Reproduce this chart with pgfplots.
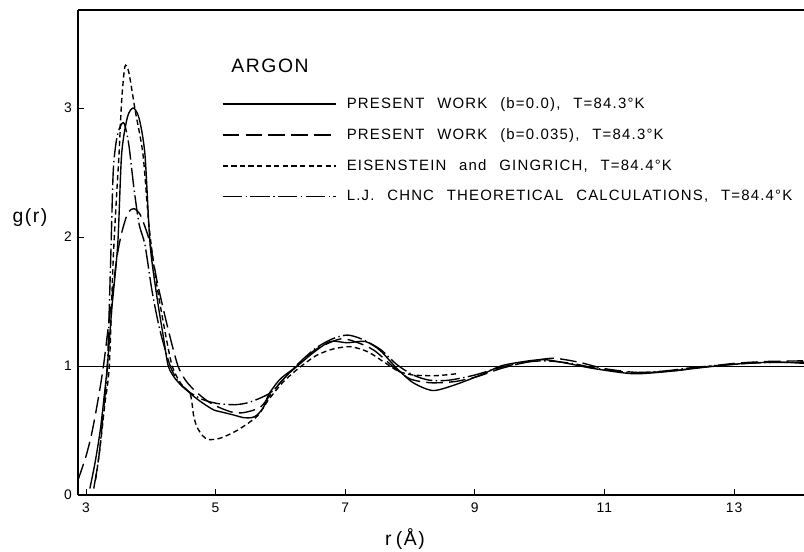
\documentclass[border=0pt]{standalone}
\usepackage{pgfplots}
\pgfplotsset{compat=1.18}
\usepackage{fontspec}
\setmainfont{Liberation Sans}[LetterSpace=8, WordSpace=2.4]
\begin{document}
\begin{tikzpicture}
\path[use as bounding box] (-0.78in,-0.57in) rectangle (7.26in,4.95in);
\begin{axis}[
  at={(0,0)}, anchor=south west,
  scale only axis, width=7.26in, height=4.85in,
  xmin=2.877, xmax=14.08, ymin=0, ymax=3.76,
  axis x line=box, axis y line=left,
  axis line style={-, line width=1.1pt},
  xtick={3,5,7,9,11,13}, ytick={0,1,2,3},
  xtick pos=left,
  tick align=inside, major tick length=0.06in,
  tick style={line width=0.6pt, black},
  /pgf/number format/assume math mode=true,
  ticklabel style={font=\fontsize{10}{12}\selectfont},
  xticklabel style={yshift=-2pt},
  yticklabel style={xshift=-1pt},
  xlabel={r\hspace{3pt}(Å)}, ylabel={g(r)},
  xlabel style={font=\fontsize{14}{16}\selectfont, at={(rel axis cs:0.4504,0)}, anchor=center, yshift=-0.44in},
  ylabel style={font=\fontsize{14}{16}\selectfont, rotate=-90, at={(rel axis cs:0,0.573)}, anchor=center, xshift=-0.48in},
  legend cell align=left,
  legend style={at={(rel axis cs:0.198,0.825)}, anchor=north west, draw=none, fill=none,
    font=\fontsize{10.8}{13}\selectfont, row sep=9.3pt, inner sep=0pt,
    nodes={inner sep=1pt, text height=8.5pt, text depth=2.5pt},
    /tikz/every odd column/.append style={column sep=0.09in}},
  legend image code/.code={\draw[#1] (0in,0in) -- (1.13in,0in);},
]
\addplot[black, line width=0.45pt, forget plot] coordinates {(2.877,1) (14.08,1)};

% Present work b=0.0 (solid)
\addplot[black, line width=1pt, smooth, tension=0.45] coordinates {
(3.06,0.05) (3.14,0.25) (3.22,0.50) (3.28,0.76) (3.33,1.00) (3.40,1.45) (3.49,1.94)
(3.55,2.64) (3.64,2.93) (3.73,3.00) (3.82,2.92) (3.91,2.64) (3.99,1.94) (4.10,1.52)
(4.19,1.24) (4.27,1.00) (4.38,0.90) (4.50,0.84) (4.65,0.77) (4.81,0.71) (4.97,0.66)
(5.12,0.64) (5.28,0.62) (5.43,0.60) (5.56,0.60) (5.64,0.62) (5.74,0.68) (5.82,0.78)
(6.00,0.90) (6.26,1.00) (6.50,1.10) (6.77,1.19) (7.03,1.18) (7.31,1.19) (7.54,1.12)
(7.80,0.98) (8.05,0.87) (8.35,0.81) (8.67,0.85) (9.09,0.93) (9.40,1.00) (9.70,1.03)
(10.06,1.05) (10.43,1.02) (10.84,0.98) (11.45,0.94) (12.03,0.96) (12.54,0.99)
(13.16,1.02) (13.68,1.03) (14.10,1.02)};
\addlegendentry{PRESENT WORK (b=0.0), T=84.3°K}

% Present work b=0.035 (long dash)
\addplot[black, line width=1pt, smooth, tension=0.45, dash pattern=on 12pt off 4.5pt] coordinates {
(2.88,0.12) (3.00,0.30) (3.09,0.48) (3.18,0.72) (3.27,1.00) (3.38,1.45) (3.48,1.85)
(3.56,2.05) (3.65,2.19) (3.74,2.22) (3.83,2.18) (3.91,2.08) (3.99,1.95) (4.10,1.65)
(4.27,1.28) (4.42,1.00) (4.55,0.88) (4.70,0.80) (4.87,0.73) (5.05,0.68) (5.27,0.64)
(5.45,0.64) (5.69,0.68) (5.85,0.78) (6.05,0.90) (6.30,1.02) (6.55,1.13) (6.93,1.21)
(7.20,1.18) (7.45,1.12) (7.75,0.99) (8.00,0.90) (8.32,0.87) (8.70,0.88) (9.05,0.92)
(9.40,0.98) (9.80,1.03) (10.20,1.06) (10.60,1.03) (11.00,0.98) (11.50,0.95)
(12.00,0.96) (12.50,0.99) (13.00,1.02) (13.50,1.035) (14.10,1.04)};
\addlegendentry{PRESENT WORK (b=0.035), T=84.3°K}

% Eisenstein and Gingrich (short dash)
\addplot[black, line width=1pt, smooth, tension=0.45, dash pattern=on 3.8pt off 2.4pt] coordinates {
(3.15,0.12) (3.22,0.38) (3.29,0.70) (3.36,1.00) (3.42,1.82) (3.47,2.30) (3.51,2.64)
(3.55,3.05) (3.60,3.32) (3.66,3.28) (3.76,2.98) (3.88,2.64) (3.97,2.10) (4.07,1.70)
(4.20,1.32) (4.33,1.00) (4.47,0.86) (4.61,0.78) (4.66,0.62) (4.71,0.53) (4.80,0.46)
(4.89,0.43) (5.07,0.44) (5.33,0.50) (5.64,0.61) (5.82,0.74) (6.05,0.88) (6.30,0.99)
(6.55,1.08) (6.80,1.13) (7.08,1.15) (7.35,1.11) (7.60,1.03) (7.82,0.96) (8.05,0.93)
(8.40,0.925) (8.72,0.94)};
\addlegendentry{EISENSTEIN and GINGRICH, T=84.4°K}

% L.J. CHNC theoretical (dash-dot)
\addplot[black, line width=1pt, smooth, tension=0.45, dash pattern=on 14pt off 2.5pt on 1pt off 2.5pt] coordinates {
(3.12,0.05) (3.20,0.30) (3.27,0.65) (3.33,1.00) (3.38,1.80) (3.42,2.50) (3.47,2.75)
(3.53,2.86) (3.59,2.88) (3.66,2.72) (3.74,2.38) (3.82,2.10) (3.91,1.94) (4.02,1.58)
(4.14,1.28) (4.30,1.00) (4.45,0.86) (4.62,0.79) (4.80,0.74) (5.02,0.71) (5.30,0.70)
(5.53,0.72) (5.84,0.79) (6.05,0.90) (6.30,1.03) (6.55,1.14) (6.80,1.21) (7.03,1.24)
(7.25,1.21) (7.54,1.13) (7.80,1.01) (8.05,0.93) (8.30,0.89) (8.60,0.89) (9.00,0.93)
(9.40,0.99) (9.80,1.03) (10.10,1.04) (10.50,1.02) (10.90,0.98) (11.40,0.95)
(11.90,0.96) (12.40,0.99) (12.90,1.01) (13.40,1.025) (14.10,1.03)};
\addlegendentry{L.J. CHNC THEORETICAL CALCULATIONS, T=84.4°K}

\node[anchor=west, font=\fontsize{14}{16}\selectfont, inner sep=0pt] at (rel axis cs:0.211,0.885) {ARGON};
\end{axis}
\end{tikzpicture}
\end{document}
